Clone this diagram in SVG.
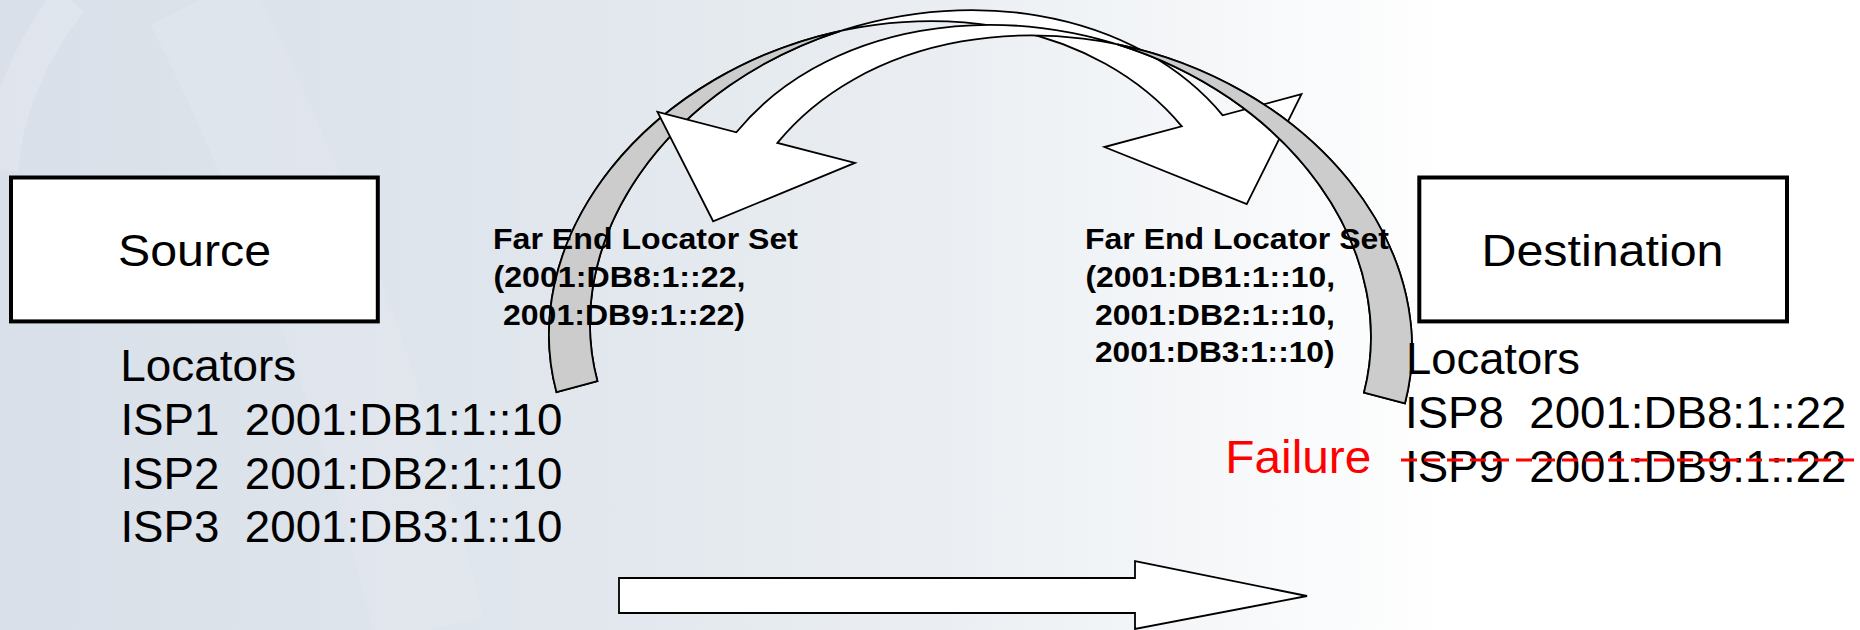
<svg xmlns="http://www.w3.org/2000/svg" width="1860" height="630" viewBox="0 0 1860 630">
<style>
.t{font-family:"Liberation Sans",Arial,sans-serif;fill:#000;white-space:pre}
.r{font-size:44px}
.bx{font-size:45px}
.b{font-size:29px;font-weight:bold}
.fail{font-size:46px;fill:#ff0000}
.box{fill:#ffffff;stroke:#000;stroke-width:4}
.rib{fill:#ffffff;stroke:#000;stroke-width:1.8;stroke-linejoin:miter}
.back{fill:#cccccc;stroke:#000;stroke-width:1.8}
</style>
<defs>
<linearGradient id="bg" x1="0" y1="0" x2="1860" y2="0" gradientUnits="userSpaceOnUse">
<stop offset="0" stop-color="#d9e0e9"/>
<stop offset="0.25" stop-color="#dfe5ec"/>
<stop offset="0.5" stop-color="#eaeef2"/>
<stop offset="0.65" stop-color="#f5f7f9"/>
<stop offset="0.78" stop-color="#ffffff"/>
</linearGradient>
<path id="curved" d="M672.8,-95 A347 276 0 0 0 0,0 L42.4,0 A347 276 0 0 1 715.2,-95 L796.7,-95 L715.4,-3 L592.7,-95 Z"/>
<path id="crescent" d="M0,0 A347 276 0 0 1 368.2,-275.5 A347 276 0 0 0 42.4,0 Z"/>
</defs>
<rect width="1860" height="630" fill="url(#bg)"/>
<path d="M70,0 C30,50 5,110 0,170" fill="none" stroke="#ffffff" stroke-opacity="0.18" stroke-width="36"/>
<path d="M200,0 C300,200 380,420 430,630" fill="none" stroke="#ffffff" stroke-opacity="0.1" stroke-width="110"/>

<g id="connectors">
<g id="arrow-to-destination" transform="translate(556.5,392.2) rotate(-15)">
<use href="#curved" class="rib"/>
<use href="#crescent" class="back"/>
</g>
<g id="arrow-to-source" transform="translate(1405,403.3) rotate(14.5) scale(-1,1)">
<use href="#curved" class="rib"/>
<use href="#crescent" class="back"/>
</g>
<path id="flow-arrow" class="rib" d="M619,578 L1135,578 L1135,561 L1307,596 L1135,629 L1135,613 L619,613 Z"/>
</g>

<g id="source">
<rect class="box" x="11" y="177.5" width="366.8" height="143.9"/>
<text class="t bx" x="118" y="266" textLength="153" lengthAdjust="spacingAndGlyphs">Source</text>
</g>
<g id="destination">
<rect class="box" x="1419.3" y="177.5" width="367.7" height="143.9"/>
<text class="t bx" x="1481.5" y="266" textLength="242" lengthAdjust="spacingAndGlyphs">Destination</text>
</g>

<g id="source-locators">
<text class="t r" x="120.2" y="381" textLength="176" lengthAdjust="spacingAndGlyphs">Locators</text>
<text class="t r" xml:space="preserve" x="120.4" y="435" textLength="442" lengthAdjust="spacingAndGlyphs">ISP1  2001:DB1:1::10</text>
<text class="t r" xml:space="preserve" x="120.4" y="488.5" textLength="442" lengthAdjust="spacingAndGlyphs">ISP2  2001:DB2:1::10</text>
<text class="t r" xml:space="preserve" x="120.4" y="542" textLength="442" lengthAdjust="spacingAndGlyphs">ISP3  2001:DB3:1::10</text>
</g>

<g id="destination-locators">
<text class="t r" x="1406" y="374" textLength="174" lengthAdjust="spacingAndGlyphs">Locators</text>
<text class="t r" xml:space="preserve" x="1405" y="428.3" textLength="441.5" lengthAdjust="spacingAndGlyphs">ISP8  2001:DB8:1::22</text>
<text class="t r" xml:space="preserve" x="1405" y="481.7" textLength="441.5" lengthAdjust="spacingAndGlyphs">ISP9  2001:DB9:1::22</text>
</g>

<g id="failure">
<text class="t fail" x="1225.3" y="472.7" textLength="146" lengthAdjust="spacingAndGlyphs">Failure</text>
<line x1="1401" y1="460" x2="1860" y2="460" stroke="#ff0000" stroke-width="3" stroke-dasharray="16 7"/>
</g>

<g id="label-left">
<text class="t b" x="493" y="249" textLength="305" lengthAdjust="spacingAndGlyphs">Far End Locator Set</text>
<text class="t b" x="493.5" y="287" textLength="252" lengthAdjust="spacingAndGlyphs">(2001:DB8:1::22,</text>
<text class="t b" x="503" y="325" textLength="242" lengthAdjust="spacingAndGlyphs">2001:DB9:1::22)</text>
</g>
<g id="label-right">
<text class="t b" x="1085" y="249.3" textLength="304" lengthAdjust="spacingAndGlyphs">Far End Locator Set</text>
<text class="t b" x="1085.5" y="287" textLength="249.5" lengthAdjust="spacingAndGlyphs">(2001:DB1:1::10,</text>
<text class="t b" x="1095" y="325" textLength="240" lengthAdjust="spacingAndGlyphs">2001:DB2:1::10,</text>
<text class="t b" x="1095" y="362" textLength="239.5" lengthAdjust="spacingAndGlyphs">2001:DB3:1::10)</text>
</g>
</svg>
